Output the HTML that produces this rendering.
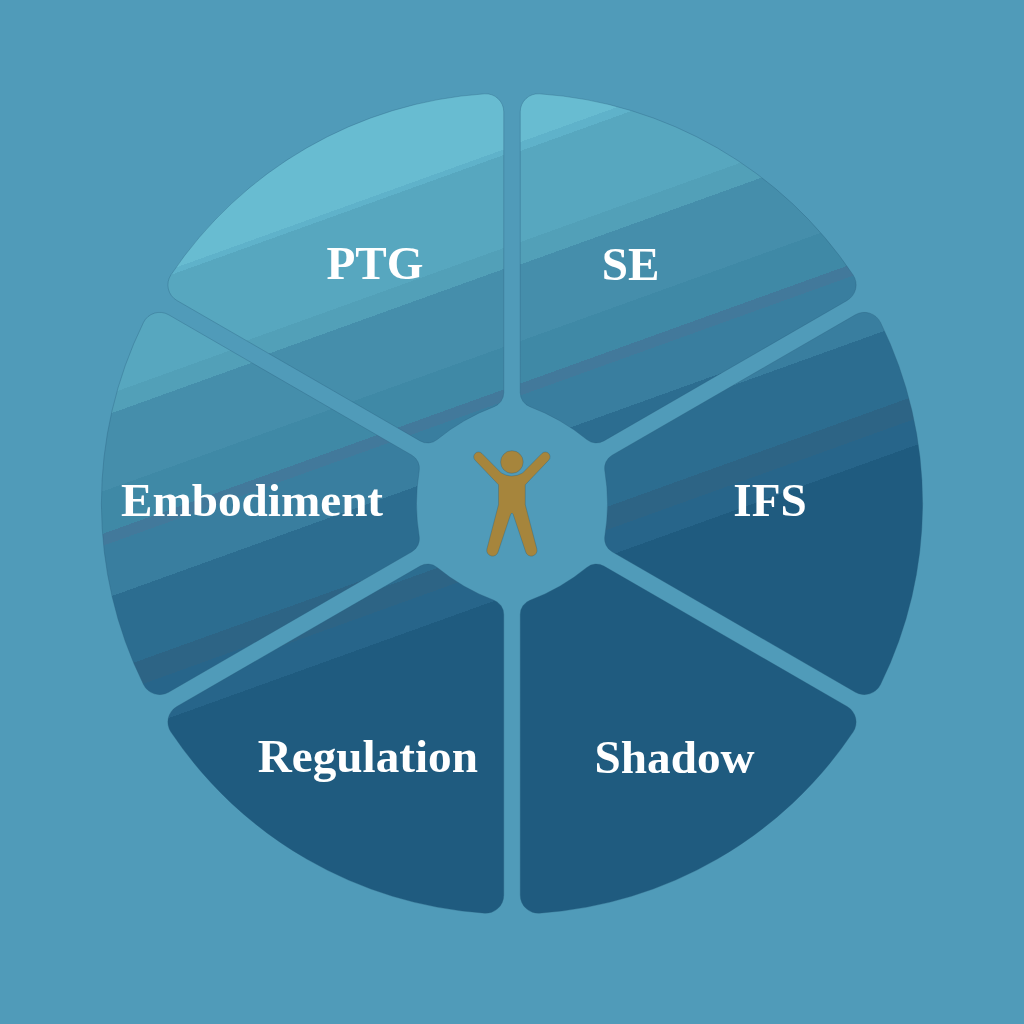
<!DOCTYPE html>
<html><head><meta charset="utf-8"><title>Wheel</title>
<style>
html,body{margin:0;padding:0;background:#509bb9;}
body{width:1024px;height:1024px;overflow:hidden;}
svg{display:block;}
.lbl{will-change:transform;}
text{font-family:"Liberation Serif",serif;font-weight:bold;font-size:47.2px;fill:#fff;}
</style></head><body>
<svg width="1024" height="1024" viewBox="0 0 1024 1024">
<defs>
<linearGradient id="gPTG" gradientUnits="userSpaceOnUse" x1="512.000" y1="0.000" x2="838.346" y2="906.516">
<stop offset="0.00000" stop-color="#68bcd1"/>
<stop offset="0.14307" stop-color="#68bcd1"/>
<stop offset="0.14307" stop-color="#5fb2ca"/>
<stop offset="0.14844" stop-color="#5fb2ca"/>
<stop offset="0.14844" stop-color="#57a7bf"/>
<stop offset="0.23926" stop-color="#57a7bf"/>
<stop offset="0.23926" stop-color="#52a0b8"/>
<stop offset="0.25977" stop-color="#52a0b8"/>
<stop offset="0.25977" stop-color="#458eab"/>
<stop offset="0.33594" stop-color="#458eab"/>
<stop offset="0.33594" stop-color="#3f89a6"/>
<stop offset="0.37744" stop-color="#3f89a6"/>
<stop offset="0.37744" stop-color="#42799b"/>
<stop offset="0.38916" stop-color="#42799b"/>
<stop offset="0.38916" stop-color="#397e9f"/>
<stop offset="0.43945" stop-color="#397e9f"/>
<stop offset="0.43945" stop-color="#2c6d90"/>
<stop offset="0.52734" stop-color="#2c6d90"/>
<stop offset="0.52734" stop-color="#2d6485"/>
<stop offset="0.54980" stop-color="#2d6485"/>
<stop offset="0.54980" stop-color="#27658a"/>
<stop offset="0.57910" stop-color="#27658a"/>
<stop offset="0.57910" stop-color="#1f5b7f"/>
<stop offset="1.00000" stop-color="#1f5b7f"/>
</linearGradient>
<linearGradient id="gSE" gradientUnits="userSpaceOnUse" x1="512.000" y1="0.000" x2="838.346" y2="906.516">
<stop offset="0.00000" stop-color="#68bcd1"/>
<stop offset="0.14160" stop-color="#68bcd1"/>
<stop offset="0.14160" stop-color="#5fb2ca"/>
<stop offset="0.15039" stop-color="#5fb2ca"/>
<stop offset="0.15039" stop-color="#57a7bf"/>
<stop offset="0.23926" stop-color="#57a7bf"/>
<stop offset="0.23926" stop-color="#52a0b8"/>
<stop offset="0.26123" stop-color="#52a0b8"/>
<stop offset="0.26123" stop-color="#458eab"/>
<stop offset="0.33594" stop-color="#458eab"/>
<stop offset="0.33594" stop-color="#3f89a6"/>
<stop offset="0.37744" stop-color="#3f89a6"/>
<stop offset="0.37744" stop-color="#42799b"/>
<stop offset="0.38916" stop-color="#42799b"/>
<stop offset="0.38916" stop-color="#397e9f"/>
<stop offset="0.43799" stop-color="#397e9f"/>
<stop offset="0.43799" stop-color="#2c6d90"/>
<stop offset="0.52734" stop-color="#2c6d90"/>
<stop offset="0.52734" stop-color="#2d6485"/>
<stop offset="0.54980" stop-color="#2d6485"/>
<stop offset="0.54980" stop-color="#27658a"/>
<stop offset="0.57910" stop-color="#27658a"/>
<stop offset="0.57910" stop-color="#1f5b7f"/>
<stop offset="1.00000" stop-color="#1f5b7f"/>
</linearGradient>
<linearGradient id="gIFS" gradientUnits="userSpaceOnUse" x1="512.000" y1="0.000" x2="838.346" y2="906.516">
<stop offset="0.00000" stop-color="#68bcd1"/>
<stop offset="0.14062" stop-color="#68bcd1"/>
<stop offset="0.14062" stop-color="#5fb2ca"/>
<stop offset="0.14893" stop-color="#5fb2ca"/>
<stop offset="0.14893" stop-color="#57a7bf"/>
<stop offset="0.23926" stop-color="#57a7bf"/>
<stop offset="0.23926" stop-color="#52a0b8"/>
<stop offset="0.25977" stop-color="#52a0b8"/>
<stop offset="0.25977" stop-color="#458eab"/>
<stop offset="0.33594" stop-color="#458eab"/>
<stop offset="0.33594" stop-color="#3f89a6"/>
<stop offset="0.37744" stop-color="#3f89a6"/>
<stop offset="0.37744" stop-color="#42799b"/>
<stop offset="0.38916" stop-color="#42799b"/>
<stop offset="0.38916" stop-color="#397e9f"/>
<stop offset="0.45410" stop-color="#397e9f"/>
<stop offset="0.45410" stop-color="#2c6d90"/>
<stop offset="0.52832" stop-color="#2c6d90"/>
<stop offset="0.52832" stop-color="#2d6485"/>
<stop offset="0.55078" stop-color="#2d6485"/>
<stop offset="0.55078" stop-color="#27658a"/>
<stop offset="0.57666" stop-color="#27658a"/>
<stop offset="0.57666" stop-color="#1f5b7f"/>
<stop offset="1.00000" stop-color="#1f5b7f"/>
</linearGradient>
<linearGradient id="gShadow" gradientUnits="userSpaceOnUse" x1="512.000" y1="0.000" x2="838.346" y2="906.516">
<stop offset="0.00000" stop-color="#68bcd1"/>
<stop offset="0.14062" stop-color="#68bcd1"/>
<stop offset="0.14062" stop-color="#5fb2ca"/>
<stop offset="0.14893" stop-color="#5fb2ca"/>
<stop offset="0.14893" stop-color="#57a7bf"/>
<stop offset="0.23926" stop-color="#57a7bf"/>
<stop offset="0.23926" stop-color="#52a0b8"/>
<stop offset="0.25977" stop-color="#52a0b8"/>
<stop offset="0.25977" stop-color="#458eab"/>
<stop offset="0.33594" stop-color="#458eab"/>
<stop offset="0.33594" stop-color="#3f89a6"/>
<stop offset="0.37744" stop-color="#3f89a6"/>
<stop offset="0.37744" stop-color="#42799b"/>
<stop offset="0.38916" stop-color="#42799b"/>
<stop offset="0.38916" stop-color="#397e9f"/>
<stop offset="0.43945" stop-color="#397e9f"/>
<stop offset="0.43945" stop-color="#2c6d90"/>
<stop offset="0.52734" stop-color="#2c6d90"/>
<stop offset="0.52734" stop-color="#2d6485"/>
<stop offset="0.54980" stop-color="#2d6485"/>
<stop offset="0.54980" stop-color="#27658a"/>
<stop offset="0.57910" stop-color="#27658a"/>
<stop offset="0.57910" stop-color="#1f5b7f"/>
<stop offset="1.00000" stop-color="#1f5b7f"/>
</linearGradient>
<linearGradient id="gRegulation" gradientUnits="userSpaceOnUse" x1="512.000" y1="0.000" x2="838.346" y2="906.516">
<stop offset="0.00000" stop-color="#68bcd1"/>
<stop offset="0.14062" stop-color="#68bcd1"/>
<stop offset="0.14062" stop-color="#5fb2ca"/>
<stop offset="0.14893" stop-color="#5fb2ca"/>
<stop offset="0.14893" stop-color="#57a7bf"/>
<stop offset="0.23926" stop-color="#57a7bf"/>
<stop offset="0.23926" stop-color="#52a0b8"/>
<stop offset="0.25977" stop-color="#52a0b8"/>
<stop offset="0.25977" stop-color="#458eab"/>
<stop offset="0.33594" stop-color="#458eab"/>
<stop offset="0.33594" stop-color="#3f89a6"/>
<stop offset="0.37744" stop-color="#3f89a6"/>
<stop offset="0.37744" stop-color="#42799b"/>
<stop offset="0.38916" stop-color="#42799b"/>
<stop offset="0.38916" stop-color="#397e9f"/>
<stop offset="0.43945" stop-color="#397e9f"/>
<stop offset="0.43945" stop-color="#2c6d90"/>
<stop offset="0.52832" stop-color="#2c6d90"/>
<stop offset="0.52832" stop-color="#2d6485"/>
<stop offset="0.54980" stop-color="#2d6485"/>
<stop offset="0.54980" stop-color="#27658a"/>
<stop offset="0.58057" stop-color="#27658a"/>
<stop offset="0.58057" stop-color="#1f5b7f"/>
<stop offset="1.00000" stop-color="#1f5b7f"/>
</linearGradient>
<linearGradient id="gEmbodiment" gradientUnits="userSpaceOnUse" x1="512.000" y1="0.000" x2="838.346" y2="906.516">
<stop offset="0.00000" stop-color="#68bcd1"/>
<stop offset="0.14062" stop-color="#68bcd1"/>
<stop offset="0.14062" stop-color="#5fb2ca"/>
<stop offset="0.14893" stop-color="#5fb2ca"/>
<stop offset="0.14893" stop-color="#57a7bf"/>
<stop offset="0.24316" stop-color="#57a7bf"/>
<stop offset="0.24316" stop-color="#52a0b8"/>
<stop offset="0.26270" stop-color="#52a0b8"/>
<stop offset="0.26270" stop-color="#458eab"/>
<stop offset="0.33594" stop-color="#458eab"/>
<stop offset="0.33594" stop-color="#3f89a6"/>
<stop offset="0.37744" stop-color="#3f89a6"/>
<stop offset="0.37744" stop-color="#42799b"/>
<stop offset="0.38916" stop-color="#42799b"/>
<stop offset="0.38916" stop-color="#397e9f"/>
<stop offset="0.44141" stop-color="#397e9f"/>
<stop offset="0.44141" stop-color="#2c6d90"/>
<stop offset="0.51416" stop-color="#2c6d90"/>
<stop offset="0.51416" stop-color="#2d6485"/>
<stop offset="0.53809" stop-color="#2d6485"/>
<stop offset="0.53809" stop-color="#27658a"/>
<stop offset="0.57910" stop-color="#27658a"/>
<stop offset="0.57910" stop-color="#1f5b7f"/>
<stop offset="1.00000" stop-color="#1f5b7f"/>
</linearGradient>
</defs>
<rect width="1024" height="1024" fill="#509bb9"/>
<path d="M484.55,93.82 A410.6,410.6 0 0 0 170.93,274.88 A18.0,18.0 0 0 0 176.88,300.49 L420.16,440.95 A15.0,15.0 0 0 0 437.19,439.55 A200.0,200.0 0 0 1 494.02,406.74 A15.0,15.0 0 0 0 503.75,392.69 L503.75,111.78 A18.0,18.0 0 0 0 484.55,93.82 Z" fill="url(#gPTG)" stroke="#275a7c" stroke-opacity=".4" stroke-width=".8"/>
<path d="M853.07,274.88 A410.6,410.6 0 0 0 539.45,93.82 A18.0,18.0 0 0 0 520.25,111.78 L520.25,392.69 A15.0,15.0 0 0 0 529.98,406.74 A200.0,200.0 0 0 1 586.81,439.55 A15.0,15.0 0 0 0 603.84,440.95 L847.12,300.49 A18.0,18.0 0 0 0 853.07,274.88 Z" fill="url(#gSE)" stroke="#275a7c" stroke-opacity=".4" stroke-width=".8"/>
<path d="M880.52,684.57 A410.6,410.6 0 0 0 880.52,322.43 A18.0,18.0 0 0 0 855.37,314.78 L612.09,455.24 A15.0,15.0 0 0 0 604.79,470.69 A200.0,200.0 0 0 1 604.79,536.31 A15.0,15.0 0 0 0 612.09,551.76 L855.37,692.22 A18.0,18.0 0 0 0 880.52,684.57 Z" fill="url(#gIFS)" stroke="#275a7c" stroke-opacity=".4" stroke-width=".8"/>
<path d="M539.45,913.18 A410.6,410.6 0 0 0 853.07,732.12 A18.0,18.0 0 0 0 847.12,706.51 L603.84,566.05 A15.0,15.0 0 0 0 586.81,567.45 A200.0,200.0 0 0 1 529.98,600.26 A15.0,15.0 0 0 0 520.25,614.31 L520.25,895.22 A18.0,18.0 0 0 0 539.45,913.18 Z" fill="url(#gShadow)" stroke="#275a7c" stroke-opacity=".4" stroke-width=".8"/>
<path d="M170.93,732.12 A410.6,410.6 0 0 0 484.55,913.18 A18.0,18.0 0 0 0 503.75,895.22 L503.75,614.31 A15.0,15.0 0 0 0 494.02,600.26 A200.0,200.0 0 0 1 437.19,567.45 A15.0,15.0 0 0 0 420.16,566.05 L176.88,706.51 A18.0,18.0 0 0 0 170.93,732.12 Z" fill="url(#gRegulation)" stroke="#275a7c" stroke-opacity=".4" stroke-width=".8"/>
<path d="M143.48,322.43 A410.6,410.6 0 0 0 143.48,684.57 A18.0,18.0 0 0 0 168.63,692.22 L411.91,551.76 A15.0,15.0 0 0 0 419.21,536.31 A200.0,200.0 0 0 1 419.21,470.69 A15.0,15.0 0 0 0 411.91,455.24 L168.63,314.78 A18.0,18.0 0 0 0 143.48,322.43 Z" fill="url(#gEmbodiment)" stroke="#275a7c" stroke-opacity=".4" stroke-width=".8"/>
<g fill="#a6853c" stroke="#275a7c" stroke-opacity=".4" stroke-width=".8">
<circle cx="511.9" cy="462" r="11.3"/>
<path d="M481.9,453.4 L501.2,472.9 Q511.9,479.3 522.6,472.9 L541.9,453.4 A4.8,4.8 0 0 1 548.7,460.2 L525.3,484.8 L525.3,504.7 L536.9,549 A5.8,5.8 0 0 1 525.7,552 L513.2,514.5 Q511.9,511.6 510.6,514.5 L498.1,552 A5.8,5.8 0 0 1 486.9,549 L498.5,504.7 L498.5,484.8 L475.1,460.2 A4.8,4.8 0 0 1 481.9,453.4 Z"/>
</g>
<g class="lbl">
<text x="375.0" y="279.4" text-anchor="middle">PTG</text>
<text x="630.5" y="279.6" text-anchor="middle">SE</text>
<text x="770.0" y="515.5" text-anchor="middle">IFS</text>
<text x="674.6" y="772.7" text-anchor="middle">Shadow</text>
<text x="367.8" y="772.0" text-anchor="middle">Regulation</text>
<text x="252.0" y="515.5" text-anchor="middle">Embodiment</text>
</g>
</svg>
</body></html>
